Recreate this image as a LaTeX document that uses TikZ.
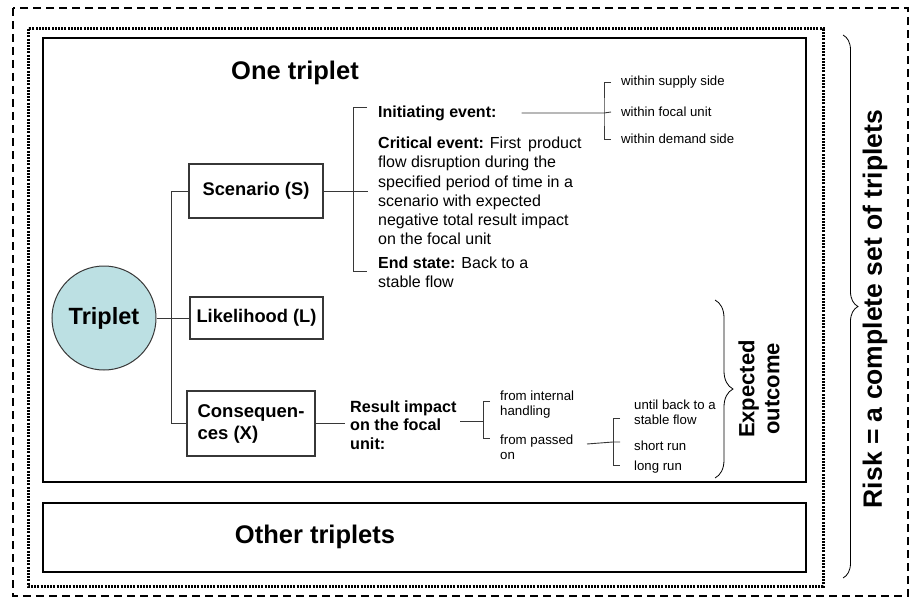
\documentclass[tikz,border=0pt]{standalone}
\usepackage{fontspec}
\setmainfont{Liberation Sans}
\usetikzlibrary{decorations.pathreplacing,calc}
\definecolor{tripfill}{RGB}{188,224,227}
\definecolor{lnc}{RGB}{55,55,55}
\begin{document}
\begin{tikzpicture}[x=1pt,y=-1pt,
  box/.style={draw=lnc, line width=1.2pt, fill=white, inner sep=0pt,
    font=\bfseries\fontsize{18.3}{21}\selectfont},
  conn/.style={draw=lnc, line width=0.9pt},
  frame/.style={draw=black, line width=2pt},
  smalltxt/.style={inner sep=0pt, anchor=west, align=left,
    font=\fontsize{13.2}{15}\selectfont},
  midtxt/.style={inner sep=0pt, anchor=west, align=left,
    font=\fontsize{16}{19.3}\selectfont},
  title/.style={inner sep=0pt, font=\bfseries\fontsize{25.5}{30}\selectfont},
  bracetwo/.style={draw=black, line width=0.8pt, decorate,
    decoration={brace, amplitude=#1}}
]
\useasboundingbox (0,0) rectangle (911,602);

% outer frames
\draw[black, line width=2pt, dash pattern=on 8pt off 5pt] (13,8) rectangle (908,596);
\draw[black, line width=3pt, dash pattern=on 2pt off 1.2pt] (28,29) rectangle (823,586);
\draw[frame] (43,38) rectangle (806,482);
\draw[frame] (43,503) rectangle (806,572);

% titles
\node[title] (onet) at (295,73) {One triplet};
\node[title] (othert) at (315,537) {Other triplets};

% triplet circle and boxes
\node[circle, draw=lnc, line width=1pt, fill=tripfill, minimum size=104pt, inner sep=0pt,
  font=\bfseries\fontsize{23.5}{26}\selectfont] (trip) at (104,318) {Triplet};
\node[box, minimum width=134pt, minimum height=54pt] (scen) at (256,191) {Scenario (S)};
\node[box, minimum width=133pt, minimum height=42pt] (lik) at (256.5,318) {Likelihood (L)};
\node[box, minimum width=128pt, minimum height=65pt, align=left,
  font=\bfseries\fontsize{18.5}{22}\selectfont] (cons) at (251,423.5) {Consequen-\\ces (X)};

% tree trunk
\draw[conn] (scen.west) -- ++(-17,0) |- (cons.west);
\draw[conn] (trip.east) -- (lik.west);

% scenario details
\node[midtxt, font=\bfseries\fontsize{16}{19.3}\selectfont] (init) at (378,113) {Initiating event:};
\node[midtxt] (crit) at (378,191) {\textbf{Critical event:} First\, product\\flow disruption during the\\specified period of time in a\\scenario with expected\\negative total result impact\\on the focal unit};
\node[midtxt] (endst) at (378,272.5) {\textbf{End state:} Back to a\\stable flow};

\coordinate (sbt) at (367,107);
\coordinate (sbb) at (367,271);
\draw[conn] (scen.east) -- ++(44,0);
\draw[conn] (sbt) -| (353,271) -- (sbb);

% initiating event branches
\node[smalltxt] (w1) at (621,82) {within supply side};
\node[smalltxt] (w2) at (621,112) {within focal unit};
\node[smalltxt] (w3) at (621,139) {within demand side};
\coordinate (ib) at (604,113);
\draw[conn] ([xshift=25pt]init.east) -- (ib) -- ([xshift=-10pt]w2.west);
\draw[conn] ([xshift=-10pt]w1.west) -| (ib) |- ([xshift=-10pt]w3.west);

% consequences details
\node[midtxt, font=\bfseries\fontsize{16.2}{18.3}\selectfont] (res) at (350,425) {Result impact\\on the focal\\unit:};
\draw[conn] (cons.east) -- ++(29,0);
\node[smalltxt, font=\fontsize{13.3}{15}\selectfont] (fi) at (500,405) {from internal\\handling};
\node[smalltxt, font=\fontsize{13.3}{15.5}\selectfont] (fp) at (500,447) {from passed\\on};
\coordinate (rb) at (483,421);
\draw[conn] (460,421) -- (rb);
\draw[conn] (490,401) -- (483,401) -- (483,438) -- (490,438);

\node[smalltxt] (u1) at (634,412) {until back to a\\stable flow};
\node[smalltxt] (sr) at (634,446) {short run};
\node[smalltxt] (lr) at (634,467) {long run};
\coordinate (pb) at (613,442);
\draw[conn] (587,444) -- (pb) -- (620,442);
\draw[conn] (620,418) -- (613,418) -- (613,465) -- (620,465);

% expected outcome brace
\draw[bracetwo=18pt] (715,300) -- (715,478);
\node[rotate=90, align=center, inner sep=0pt,
  font=\bfseries\fontsize{22}{25}\selectfont] (expo) at (759,389) {Expected\\outcome};

% risk brace
\draw[bracetwo=15pt] (843,35) -- (843,578);
\node[rotate=90, inner sep=0pt,
  font=\bfseries\fontsize{26.5}{30}\selectfont] (risk) at (875,309) {Risk = a complete set of triplets};
\end{tikzpicture}
\end{document}
